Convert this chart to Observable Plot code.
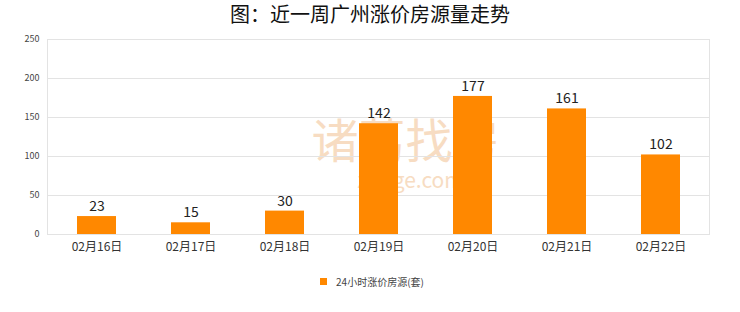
<!DOCTYPE html>
<html><head><meta charset="utf-8">
<script src="https://cdn.jsdelivr.net/npm/d3@7"></script>
<script src="https://cdn.jsdelivr.net/npm/@observablehq/plot@0.6"></script>
<style>
body{margin:0;background:#fff;font-family:"Noto Sans CJK SC","DejaVu Sans",sans-serif;width:740px;}
#title{height:30px;line-height:28px;text-align:center;font-size:20px;font-weight:normal;color:#111;}
#legend{height:22px;display:flex;justify-content:center;align-items:center;font-size:10px;color:#444;padding-left:4px;}
#legend .sw{width:7px;height:7px;background:#ff8800;margin-right:9px;}
</style></head>
<body>
<div id="title">图：近一周广州涨价房源量走势</div>
<div id="chart"></div>
<div id="legend"><span class="sw"></span><span>24小时涨价房源(套)</span></div>
<script>
const dates = ["02月16日","02月17日","02月18日","02月19日","02月20日","02月21日","02月22日"];
const values = [23, 15, 30, 142, 177, 161, 102];
const yTicks = [0, 50, 100, 150, 200, 250];
const seriesName = "24小时涨价房源(套)";

const data = dates.map((d, i) => ({date: d, value: values[i]}));

const chart = Plot.plot({
  width: 740,
  height: 240,
  marginTop: 9,
  marginBottom: 36,
  marginLeft: 47,
  marginRight: 31,
  style: {fontFamily: '"Noto Sans CJK SC","DejaVu Sans",sans-serif', color: "#333", background: "#fff"},
  x: {domain: dates, paddingInner: 0.59, paddingOuter: 0.295, label: null, tickSize: 0, tickPadding: 8},
  y: {domain: [0, 250], ticks: yTicks, label: null, tickSize: 0, tickPadding: 8},
  marks: [
    Plot.text(["诸葛找房"], {frameAnchor: "middle", dx: 27, dy: 9, fontSize: 47, fill: "#f7dcc2", lineHeight: 0.8}),
    Plot.text(["zhuge.com"], {frameAnchor: "middle", dx: 32, dy: 46, fontSize: 21, fill: "#f7dcc2", lineHeight: 0.8, style: "letter-spacing:12px"}),
    Plot.gridY(yTicks, {stroke: "#e3e3e3", strokeOpacity: 1}),
    Plot.frame({stroke: "#e3e3e3"}),
    Plot.barY(data, {x: "date", y: "value", fill: "#ff8800"}),
    Plot.text(data, {x: "date", y: "value", text: d => String(d.value), dy: -10, fontSize: 14, fill: "#222"}),
    Plot.axisY({ticks: yTicks, tickSize: 0, tickPadding: 8, fontSize: 9, fill: "#444"}),
    Plot.axisX({tickSize: 0, tickPadding: 8, fontSize: 12, fill: "#333"})
  ]
});
document.getElementById("chart").appendChild(chart);
</script>
</body></html>
